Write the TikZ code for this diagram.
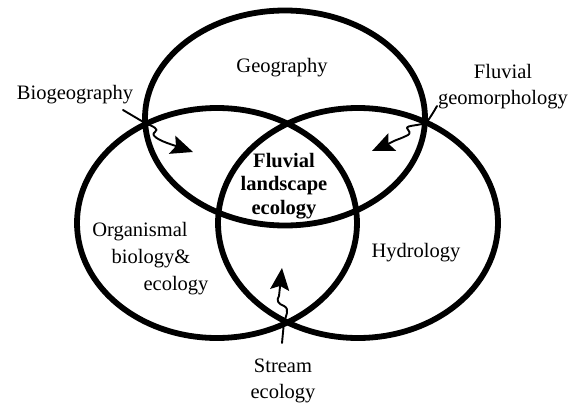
\documentclass[tikz,border=0pt]{standalone}
\usepackage{fontspec}
\setmainfont{Liberation Serif}
\usetikzlibrary{arrows.meta,shapes.geometric}
\begin{document}
\begin{tikzpicture}[x=1pt,y=-1pt,
  ring/.style={draw, ellipse, line width=5.8pt, inner sep=0pt, outer sep=0pt,
               minimum width=280pt},
  lbl/.style={font=\fontsize{20.5}{26}\selectfont, align=center, inner sep=0pt},
  core/.style={lbl, font=\fontsize{20.5}{23.5}\selectfont\bfseries},
  pointer/.style={line width=1.9pt, line cap=round, line join=round,
                  -{Stealth[length=22pt, width=19pt, inset=4pt]}}]
\useasboundingbox (0,0) rectangle (574,407);

% the three overlapping fields
\node[ring, minimum height=215pt] (geo) at (285,118) {};
\node[ring, minimum height=230pt] (org) at (217,223) {};
\node[ring, minimum height=230pt] (hyd) at (358,223) {};

% field names
\node[lbl] (tGeo) at (282,68) {Geography};
\node[lbl] (tHyd) at (416,253) {Hydrology};
\node[lbl] (tOrg1) at (140,232) {Organismal};
\node[lbl] (tOrg2) at (151,259) {biology\&};
\node[lbl] (tOrg3) at (176,286) {ecology};
\node[core] (tCore) at (284,186) {Fluvial\\landscape\\ecology};

% overlap names outside the rings
\node[lbl] (tBio) at (75,95) {Biogeography};
\node[lbl] (tFgm) at (503,87) {Fluvial\\geomorphology};
\node[lbl] (tStr) at (283,381) {Stream\\ecology};

% arrow ends
\coordinate (bioS) at (123,110);
\coordinate (bioT) at (193,152);
\coordinate (fgmS) at (437,106);
\coordinate (fgmT) at (372,151);
\coordinate (strS) at (282,343);
\coordinate (strT) at (282,268);

% wiggly pointers into the overlaps
\draw[pointer] (bioS) -- (145,123)
  .. controls (152,126) and (160,129) .. (155,132)
  .. controls (150,135) and (158,140) .. (170,144)
  -- (bioT);
\draw[pointer] (fgmS) .. controls (433,113) .. (427,122)
  .. controls (420,126) and (407,125) .. (407,128)
  .. controls (408,131) and (413,133) .. (406,136)
  .. controls (400,139) and (395,140) .. (390,143)
  -- (fgmT);
\draw[pointer] (strS) -- (284,322)
  .. controls (286,316) and (290,309) .. (284,306)
  .. controls (278,304) and (276,300) .. (279,296)
  -- (strT);
\end{tikzpicture}
\end{document}
